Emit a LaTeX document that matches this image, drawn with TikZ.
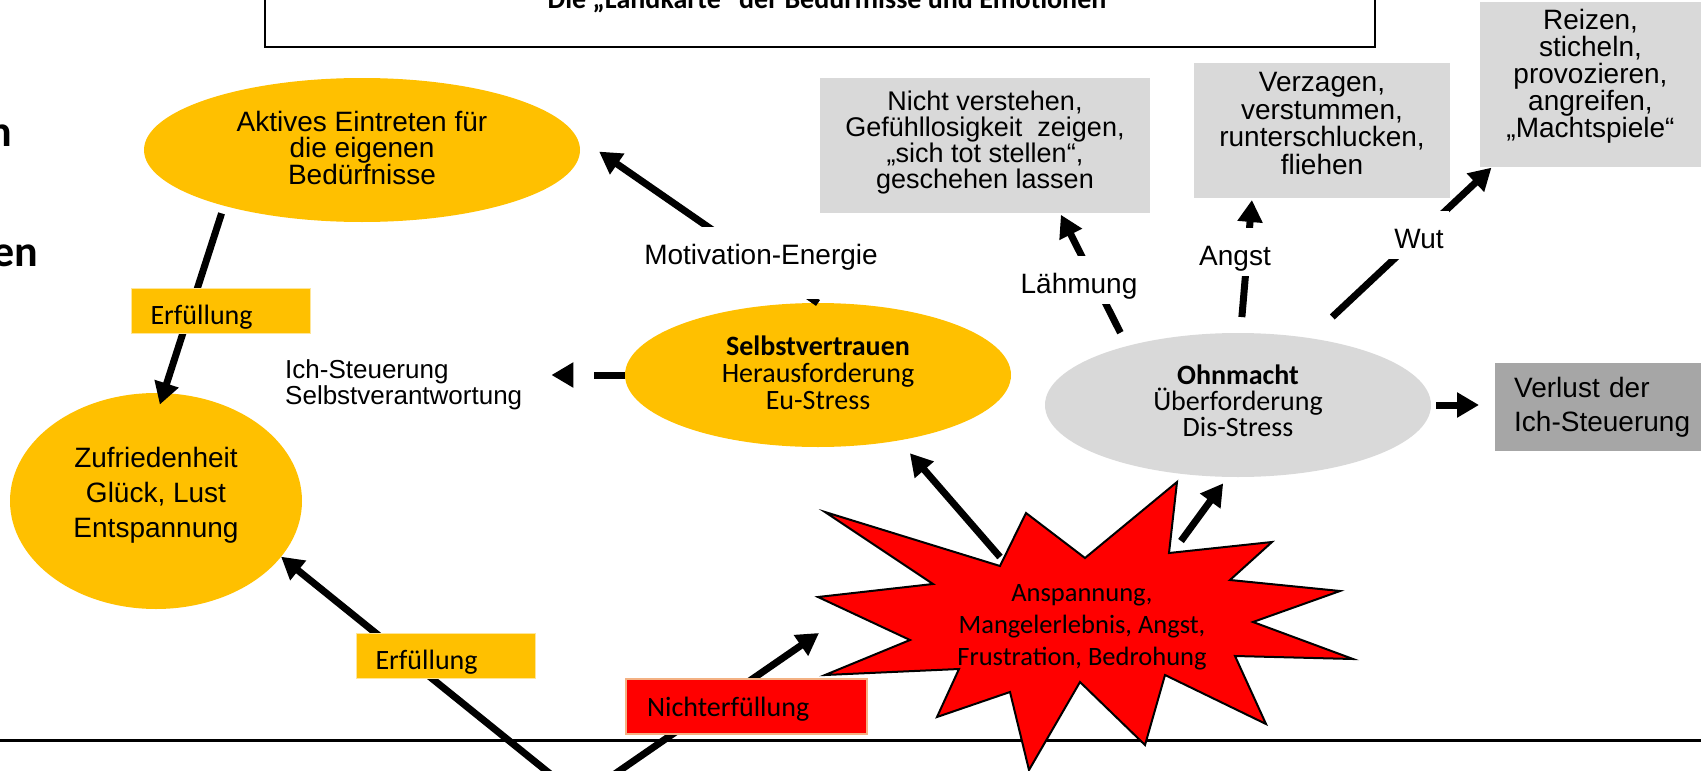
\documentclass[tikz,border=0pt]{standalone}
\usepackage{fontspec}
\setmainfont{Liberation Sans}
\newfontfamily\calibri{Carlito}
\usetikzlibrary{shapes.geometric,arrows.meta}
\definecolor{sun}{HTML}{FFC000}
\definecolor{fog}{HTML}{D9D9D9}
\definecolor{slate}{HTML}{A6A6A6}
\definecolor{alarm}{HTML}{FF0000}
\definecolor{peach}{HTML}{F4B183}
\definecolor{pale}{HTML}{FFE699}
% invisible depth below the last line, lifts a text block inside its shape
\newcommand\dropstrut[1]{\rule[-#1]{0pt}{0pt}}

\begin{document}
\begin{tikzpicture}[
x=1pt, y=-1pt,
arrow/.style={draw,line width=7pt,-{Triangle[length=22pt,width=24pt]}},
bubble/.style={ellipse,fill=sun,inner sep=0pt,outer sep=0pt,align=center,font=\fontsize{28}{26.5}\selectfont},
greybox/.style={rectangle,fill=fog,inner sep=0pt,outer sep=0pt,align=center,font=\fontsize{28}{27}\selectfont},
tag/.style={rectangle,anchor=north west,fill=sun,draw=pale,line width=1pt,inner xsep=19pt,inner ysep=0pt,
  text width=141pt,align=left,text height=36pt,text depth=9pt,font=\calibri\fontsize{28}{28}\selectfont},
cut/.style={fill=white,anchor=base,inner xsep=3pt,inner ysep=0pt,text height=37pt,text depth=11pt,
  font=\fontsize{28}{28}\selectfont}
]
\useasboundingbox (0,0) rectangle (1701,771);
\clip (0,0) rectangle (1701,771);

% title and cut-off margin text
\draw[line width=2.5pt] (265,-20) rectangle (1375,47);
\node[font=\calibri\bfseries\fontsize{28}{28}\selectfont,anchor=base] (title) at (827,9) {Die „Landkarte“ der Bedürfnisse und Emotionen};
\node[font=\calibri\bfseries\fontsize{44}{44}\selectfont,anchor=base east,inner sep=0pt] (frag1) at (12,146) {n};
\node[font=\calibri\bfseries\fontsize{44}{44}\selectfont,anchor=base east,inner sep=0pt] (frag2) at (38,266) {en};

% states
\node[bubble,minimum width=436pt,minimum height=144pt] (aktiv) at (362,150) {Aktives Eintreten für\\die eigenen\\Bedürfnisse\dropstrut{5pt}};
\node[bubble,minimum width=292pt,minimum height=216pt,font=\fontsize{28}{35}\selectfont] (zufr) at (156,501) {Zufriedenheit\\Glück, Lust\\Entspannung\dropstrut{17pt}};
\node[bubble,minimum width=386pt,minimum height=144pt,font=\calibri\fontsize{28}{27}\selectfont] (selbst) at (818,375) {\textbf{Selbstvertrauen}\\Herausforderung\\Eu-Stress\dropstrut{5pt}};
\node[bubble,fill=fog,minimum width=386pt,minimum height=144pt,font=\calibri\fontsize{28}{26}\selectfont] (ohn) at (1238,405) {\textbf{Ohnmacht}\\Überforderung\\Dis-Stress\dropstrut{8pt}};
\node[rectangle,fill=slate,anchor=north west,inner xsep=19pt,inner ysep=0pt,text width=200pt,align=left,minimum height=88pt,font=\fontsize{28}{34}\selectfont] (verl) at (1495,363) {Verlust der\\Ich-Steuerung};

\node[greybox,minimum width=330pt,minimum height=135pt,font=\fontsize{27}{26}\selectfont] (laehm) at (985,145.5) {Nicht verstehen,\\Gefühllosigkeit~ zeigen,\\„sich tot stellen“,\\geschehen lassen\dropstrut{12pt}};
\node[greybox,minimum width=256pt,minimum height=135pt,font=\fontsize{28}{27.5}\selectfont] (flucht) at (1322,130.5) {Verzagen,\\verstummen,\\runterschlucken,\\fliehen\dropstrut{14pt}};
\node[greybox,minimum width=221pt,minimum height=165pt] (angriff) at (1590.5,84.5) {Reizen,\\sticheln,\\provozieren,\\angreifen,\\„Machtspiele“\dropstrut{22pt}};

\node[anchor=north west,inner sep=0pt,align=left,font=\fontsize{26}{26}\selectfont] (ich) at (285,359) {Ich-Steuerung\\Selbstverantwortung};

% ground line and burst
\draw[line width=3pt] (0,740) -- (1701,740);
\draw[fill=alarm,line width=2pt,line join=miter] (825,512) -- (1000,566) -- (1026,513) -- (1085,558) -- (1177,482) -- (1169,553)
  -- (1272,542) -- (1230,580) -- (1340,591) -- (1253,622) -- (1353,659) -- (1235,656) -- (1266,724) -- (1165,675)
  -- (1145,745) -- (1080,682) -- (1029,770) -- (1010,692) -- (937,717) -- (959,669) -- (825,675) -- (910,640)
  -- (818,597) -- (933,584) -- cycle;
\node[font=\calibri\fontsize{26.5}{32}\selectfont,align=center,inner sep=0pt] (stress) at (1082,627) {Anspannung,\\Mangelerlebnis, Angst,\\Frustration, Bedrohung};

\coordinate (src) at (580,798);
\coordinate (burst1) at (1000,557);
\coordinate (burst2) at (1181,541);
\coordinate (lack) at (819,633);

% connectors
\path[arrow,shorten <=8pt,shorten >=-12pt] (aktiv.202) -- (zufr.86);
\path[arrow] (src) -- (zufr.336);
\path[arrow] (src) -- (lack);
\path[arrow,shorten >=29pt] (selbst.north) -- (aktiv.4);
\path[arrow,dash pattern=on 31pt off 40pt,shorten >=29pt] (selbst.west) -- (selbst.west -| ich.east);
\path[arrow,shorten >=17pt] (burst1) -- (selbst.321);
\path[arrow,shorten >=8pt] (burst2) -- (ohn.262);
\path[arrow,shorten <=15pt,shorten >=2pt] (ohn.152) -- (laehm.318);
\path[arrow,shorten <=16pt,shorten >=2pt] (ohn.88) -- (flucht.224);
\path[arrow,shorten <=31pt,shorten >=1pt] (ohn.43) -- (angriff.220);
\path[arrow,shorten <=5pt,shorten >=16pt] (ohn.east) -- (ohn.east -| verl.west);

% labels on the connectors
\node[cut,text depth=35pt] (motiv) at (761,264) {Motivation-Energie};
\node[cut] (laehmlbl) at (1079,293) {Lähmung};
\node[cut] (angstlbl) at (1235,265) {Angst};
\node[cut,inner xsep=5pt] (wutlbl) at (1419,248) {Wut};
\node[tag] (erfuell1) at (131,288) {Erfüllung};
\node[tag] (erfuell2) at (356,633) {Erfüllung};
\node[tag,fill=alarm,draw=peach,line width=2pt,text width=199pt,inner xsep=21pt,text height=37pt,text depth=18pt] (nichterf) at (625,678) {Nichterfüllung};

\end{tikzpicture}
\end{document}
